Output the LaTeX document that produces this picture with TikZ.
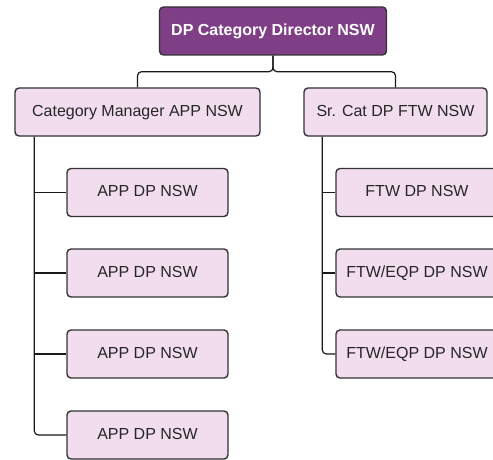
\documentclass[tikz,border=0pt]{standalone}
\usepackage{fontspec}
\setmainfont{Liberation Sans}
\usepackage{tikz}
\usetikzlibrary{calc,positioning}

\definecolor{dirpurple}{HTML}{7E3F87}
\definecolor{rolepink}{HTML}{F2DDEF}
\definecolor{edgegray}{HTML}{333333}

\tikzset{
    rolebox/.style={draw=edgegray, line width=1.4pt, fill=rolepink, rounded corners=4pt,
        minimum height=48pt, inner sep=0pt, text height=11.5pt, text depth=3.4pt,
        font=\fontsize{16}{19}\selectfont, text=black!85},
    dirbox/.style={rolebox, fill=dirpurple, text=white, font=\fontsize{16}{19}\selectfont\bfseries},
    link/.style={draw=black!90, line width=1.2pt, rounded corners=4pt}
}

\begin{document}
\begin{tikzpicture}[x=1pt, y=-1pt]
    \useasboundingbox (0, 0) rectangle (493, 460);

    % Director
    \node[dirbox, minimum width=227pt] (dir) at (273, 31) {DP Category Director NSW};

    % Second level
    \node[rolebox, minimum width=245pt] (catmgr) at (137.5, 112) {Category Manager APP NSW};
    \node[rolebox, minimum width=183pt] (srcat) at (395.5, 112) {Sr. Cat DP FTW NSW};

    \draw[link] (dir.south) -- ++(0, 16) -| (catmgr.north);
    \draw[link] (dir.south) -- ++(0, 16) -| (srcat.north);

    % APP team
    \foreach \i/\y in {1/192.5, 2/273, 3/354, 4/435}
        \node[rolebox, minimum width=161pt] (app\i) at (147.5, \y) {APP DP NSW};

    \coordinate (appspine) at ($(catmgr.south west) + (20, 0)$);
    \draw[link] (appspine) |- (app4.west);
    \foreach \i in {1, 2, 3}
        \draw[link] (appspine |- app\i.west) -- (app\i.west);

    % FTW team
    \node[rolebox, minimum width=162pt] (ftw1) at (417, 192.5) {FTW DP NSW};
    \node[rolebox, minimum width=162pt] (ftw2) at (417, 273) {FTW/EQP DP NSW};
    \node[rolebox, minimum width=162pt] (ftw3) at (417, 354) {FTW/EQP DP NSW};

    \coordinate (ftwspine) at ($(srcat.south west) + (19, 0)$);
    \draw[link] (ftwspine) |- (ftw3.west);
    \foreach \i in {1, 2}
        \draw[link] (ftwspine |- ftw\i.west) -- (ftw\i.west);
\end{tikzpicture}
\end{document}
